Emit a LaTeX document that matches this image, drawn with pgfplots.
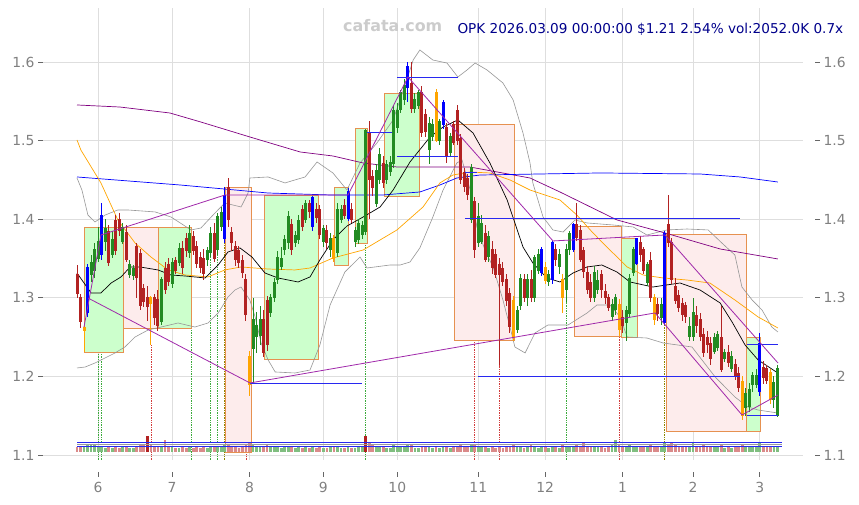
\documentclass[border=0pt]{standalone}
\usepackage{fontspec}
\setmainfont{DejaVu Sans}
\usepackage{pgfplots}
\usepackage{pgfplotstable}
\pgfplotsset{compat=1.18}
\definecolor{cred}{RGB}{178,34,34}
\definecolor{cgreen}{RGB}{34,139,34}
\definecolor{cblue}{RGB}{0,0,255}
\definecolor{corange}{RGB}{255,165,0}
\definecolor{vred}{RGB}{218,138,138}
\definecolor{vgreen}{RGB}{128,190,128}
\definecolor{boxg}{RGB}{204,255,204}
\definecolor{boxr}{RGB}{253,236,236}
\definecolor{boxe}{RGB}{230,145,80}
\definecolor{mapurple}{RGB}{128,0,128}
\definecolor{zz}{RGB}{160,40,170}
\definecolor{bb}{RGB}{150,150,150}
\definecolor{hblue}{RGB}{40,40,240}
\definecolor{dgreen}{RGB}{60,170,60}
\definecolor{dred}{RGB}{210,60,60}
\definecolor{title}{RGB}{0,0,139}

\pgfplotstableread{
i o h l c k v
0 1.330 1.342 1.300 1.305 0 5
1 1.300 1.305 1.262 1.270 0 5
2 1.258 1.265 1.231 1.262 2 6
3 1.281 1.343 1.275 1.339 1 8
4 1.330 1.355 1.320 1.345 0 8
5 1.335 1.370 1.325 1.362 0 7
6 1.350 1.390 1.345 1.372 0 5
7 1.355 1.421 1.348 1.405 1 6
8 1.372 1.400 1.360 1.388 0 4
9 1.385 1.392 1.340 1.345 0 5
10 1.355 1.385 1.350 1.374 0 4
11 1.398 1.405 1.355 1.360 0 5
12 1.400 1.408 1.378 1.385 0 4
13 1.372 1.395 1.368 1.390 0 5
14 1.383 1.392 1.345 1.348 0 5
15 1.330 1.348 1.325 1.342 0 4
16 1.328 1.342 1.322 1.338 0 4
17 1.365 1.370 1.300 1.326 0 6
18 1.357 1.362 1.285 1.290 0 7
19 1.312 1.318 1.288 1.295 0 7
20 1.300 1.315 1.270 1.289 0 16
21 1.300 1.302 1.240 1.292 2 8
22 1.300 1.305 1.265 1.275 0 6
23 1.298 1.310 1.258 1.265 0 6
24 1.270 1.326 1.265 1.323 0 5
25 1.338 1.345 1.305 1.310 0 12
26 1.342 1.350 1.315 1.320 0 6
27 1.318 1.350 1.312 1.345 0 5
28 1.348 1.352 1.330 1.335 0 4
29 1.345 1.370 1.340 1.363 0 4
30 1.363 1.372 1.330 1.338 0 5
31 1.376 1.382 1.352 1.360 0 4
32 1.358 1.392 1.350 1.382 0 6
33 1.378 1.385 1.355 1.360 0 4
34 1.365 1.372 1.338 1.343 0 5
35 1.352 1.358 1.332 1.339 0 4
36 1.350 1.362 1.322 1.331 0 5
37 1.348 1.365 1.340 1.360 0 4
38 1.358 1.390 1.352 1.382 0 6
39 1.382 1.395 1.345 1.350 0 5
40 1.361 1.408 1.355 1.403 0 6
41 1.390 1.415 1.385 1.409 0 5
42 1.375 1.441 1.370 1.430 1 7
43 1.440 1.452 1.390 1.400 0 8
44 1.383 1.390 1.360 1.370 0 5
45 1.365 1.372 1.340 1.348 0 5
46 1.360 1.366 1.338 1.345 0 4
47 1.348 1.355 1.325 1.332 0 5
48 1.323 1.330 1.270 1.278 0 7
49 1.225 1.232 1.175 1.190 2 10
50 1.235 1.300 1.190 1.272 0 8
51 1.250 1.282 1.230 1.265 0 6
52 1.252 1.290 1.240 1.272 0 5
53 1.272 1.285 1.225 1.230 0 6
54 1.297 1.302 1.232 1.240 0 7
55 1.281 1.305 1.275 1.300 0 5
56 1.300 1.325 1.295 1.320 0 5
57 1.323 1.360 1.318 1.352 0 6
58 1.340 1.365 1.335 1.350 0 4
59 1.361 1.380 1.355 1.374 0 5
60 1.370 1.410 1.362 1.403 0 6
61 1.393 1.400 1.355 1.361 0 5
62 1.370 1.385 1.365 1.380 0 4
63 1.374 1.405 1.368 1.399 0 5
64 1.412 1.418 1.385 1.390 0 4
65 1.400 1.425 1.395 1.420 0 5
66 1.420 1.425 1.402 1.410 0 4
67 1.390 1.430 1.385 1.428 1 6
68 1.412 1.420 1.395 1.402 0 4
69 1.412 1.418 1.375 1.380 0 5
70 1.372 1.392 1.365 1.388 0 4
71 1.386 1.392 1.362 1.370 0 4
72 1.361 1.382 1.352 1.376 0 5
73 1.376 1.380 1.345 1.350 2 5
74 1.358 1.421 1.352 1.412 0 6
75 1.400 1.418 1.395 1.412 0 4
76 1.418 1.426 1.400 1.405 0 4
77 1.401 1.440 1.398 1.435 1 6
78 1.412 1.420 1.395 1.400 0 4
79 1.371 1.390 1.365 1.386 0 4
80 1.374 1.400 1.368 1.395 0 5
81 1.380 1.398 1.375 1.392 0 5
82 1.384 1.515 1.380 1.513 0 16
83 1.511 1.525 1.400 1.450 0 10
84 1.454 1.462 1.430 1.440 0 7
85 1.420 1.470 1.415 1.462 0 6
86 1.450 1.490 1.445 1.482 0 6
87 1.471 1.480 1.440 1.446 0 5
88 1.450 1.475 1.445 1.470 0 4
89 1.460 1.480 1.455 1.472 0 4
90 1.471 1.545 1.465 1.539 0 7
91 1.517 1.548 1.510 1.539 0 6
92 1.539 1.565 1.535 1.561 0 5
93 1.552 1.578 1.545 1.570 0 6
94 1.568 1.600 1.549 1.595 1 8
95 1.573 1.600 1.535 1.541 0 7
96 1.541 1.560 1.535 1.552 0 4
97 1.545 1.565 1.540 1.561 0 4
98 1.561 1.570 1.505 1.510 0 6
99 1.533 1.540 1.505 1.512 0 5
100 1.488 1.530 1.470 1.522 0 5
101 1.505 1.528 1.500 1.520 0 4
102 1.561 1.565 1.498 1.500 2 5
103 1.500 1.528 1.495 1.524 0 4
104 1.520 1.552 1.515 1.549 1 5
105 1.517 1.522 1.472 1.479 0 5
106 1.485 1.510 1.480 1.505 0 4
107 1.520 1.525 1.495 1.498 0 5
108 1.539 1.545 1.495 1.500 0 6
109 1.503 1.508 1.445 1.450 0 7
110 1.459 1.465 1.435 1.441 0 6
111 1.452 1.458 1.425 1.431 0 5
112 1.399 1.470 1.395 1.466 0 7
113 1.422 1.428 1.350 1.361 0 8
114 1.370 1.420 1.365 1.403 0 6
115 1.372 1.405 1.368 1.395 0 5
116 1.382 1.392 1.345 1.348 0 5
117 1.352 1.385 1.345 1.378 0 4
118 1.361 1.372 1.330 1.339 0 5
119 1.355 1.362 1.325 1.330 0 4
120 1.342 1.350 1.215 1.329 0 6
121 1.338 1.345 1.315 1.320 0 4
122 1.323 1.330 1.290 1.297 0 5
123 1.306 1.312 1.255 1.263 0 6
124 1.297 1.302 1.245 1.250 2 7
125 1.259 1.290 1.255 1.284 0 5
126 1.290 1.330 1.285 1.325 0 5
127 1.323 1.330 1.295 1.300 0 4
128 1.300 1.330 1.290 1.323 0 5
129 1.323 1.335 1.295 1.300 0 8
130 1.300 1.355 1.295 1.352 0 5
131 1.335 1.362 1.330 1.355 0 4
132 1.332 1.365 1.328 1.361 1 5
133 1.339 1.345 1.318 1.322 2 5
134 1.320 1.335 1.315 1.330 0 4
135 1.323 1.372 1.318 1.371 1 6
136 1.362 1.368 1.340 1.348 0 5
137 1.340 1.362 1.330 1.355 0 4
138 1.323 1.330 1.281 1.300 2 8
139 1.310 1.368 1.295 1.361 0 6
140 1.361 1.385 1.355 1.382 0 5
141 1.361 1.395 1.358 1.393 1 6
142 1.393 1.421 1.372 1.376 0 7
143 1.386 1.392 1.345 1.348 0 6
144 1.360 1.365 1.325 1.333 0 10
145 1.332 1.340 1.305 1.310 0 6
146 1.320 1.330 1.295 1.300 0 5
147 1.300 1.340 1.295 1.332 0 6
148 1.310 1.335 1.305 1.322 0 5
149 1.330 1.335 1.300 1.310 0 5
150 1.308 1.318 1.292 1.300 0 4
151 1.300 1.305 1.283 1.288 0 5
152 1.276 1.298 1.270 1.291 0 7
153 1.285 1.305 1.278 1.300 0 12
154 1.291 1.298 1.252 1.259 2 8
155 1.275 1.285 1.255 1.265 0 6
156 1.268 1.290 1.245 1.284 0 6
157 1.280 1.330 1.275 1.325 0 7
158 1.332 1.365 1.328 1.361 0 6
159 1.344 1.376 1.342 1.376 1 6
160 1.370 1.378 1.345 1.355 0 5
161 1.361 1.365 1.330 1.335 0 5
162 1.319 1.345 1.315 1.342 0 5
163 1.348 1.358 1.295 1.300 0 7
164 1.300 1.305 1.265 1.272 2 6
165 1.292 1.300 1.270 1.280 0 5
166 1.275 1.300 1.265 1.292 0 5
167 1.269 1.385 1.265 1.382 1 10
168 1.393 1.431 1.365 1.370 0 8
169 1.371 1.376 1.318 1.323 0 10
170 1.314 1.325 1.292 1.297 0 7
171 1.303 1.310 1.282 1.288 0 6
172 1.293 1.300 1.270 1.278 0 6
173 1.290 1.295 1.268 1.276 0 5
174 1.250 1.275 1.245 1.263 0 6
175 1.250 1.300 1.245 1.282 0 10
176 1.278 1.290 1.255 1.265 0 6
177 1.272 1.280 1.245 1.250 0 6
178 1.253 1.262 1.225 1.230 0 7
179 1.250 1.258 1.230 1.240 0 5
180 1.242 1.250 1.215 1.223 0 6
181 1.232 1.255 1.228 1.250 0 5
182 1.237 1.258 1.232 1.253 0 5
183 1.250 1.290 1.205 1.208 0 7
184 1.222 1.235 1.218 1.230 0 4
185 1.231 1.240 1.212 1.218 0 5
186 1.210 1.232 1.205 1.225 0 4
187 1.215 1.222 1.195 1.200 0 5
188 1.204 1.212 1.180 1.186 0 6
189 1.193 1.200 1.145 1.150 2 8
190 1.160 1.185 1.150 1.178 0 6
191 1.161 1.192 1.155 1.183 0 6
192 1.189 1.205 1.180 1.201 0 5
193 1.189 1.210 1.185 1.201 0 5
194 1.180 1.255 1.175 1.242 1 9
195 1.212 1.220 1.190 1.199 0 6
196 1.210 1.215 1.190 1.195 0 5
197 1.205 1.210 1.165 1.170 2 6
198 1.170 1.200 1.160 1.192 0 6
199 1.150 1.215 1.148 1.210 0 6
}\candles

\pgfplotsset{
  ebar/.style 2 args={draw=none, mark=none, forget plot,
    error bars/.cd, y dir=both, y explicit, error mark=none,
    error bar style={line width=#2, draw=#1, solid}},
  bx/.style={fill=#1, draw=boxe, line width=0.9pt, forget plot},
  dl/.style={densely dotted, line width=0.7pt, forget plot},
  hl/.style={hblue, line width=0.9pt, forget plot},
}
\newcommand{\wick}[2]{\addplot[ebar={#1}{1pt}] table[x=i, y expr={#2 ? (\thisrow{h}+\thisrow{l})/2 : nan}, y error expr={(\thisrow{h}-\thisrow{l})/2}] {\candles};}
\newcommand{\body}[2]{\addplot[ebar={#1}{3pt}] table[x=i, y expr={#2 ? (\thisrow{o}+\thisrow{c})/2 : nan}, y error expr={abs(\thisrow{o}-\thisrow{c})/2+0.0005}] {\candles};}

\begin{document}
\begin{tikzpicture}
\useasboundingbox (0,0) rectangle (859pt,505pt);
\begin{axis}[
  at={(43pt,45pt)}, anchor=south west, scale only axis,
  width=760pt, height=452pt,
  xmin=-9.66, xmax=206.25, ymin=1.0936, ymax=1.6687,
  axis line style={draw=none},
  grid=major, major grid style={draw=black!13, line width=0.8pt},
  xtick={6,27,49,70,91,114,133,155,175,194},
  xticklabels={6,7,8,9,10,11,12,1,2,3},
  ytick={1.1,1.2,1.3,1.4,1.5,1.6},
  yticklabels={1.1,1.2,1.3,1.4,1.5,1.6},
  xtick pos=bottom, ytick pos=left,
  tick align=outside, major tick length=5pt,
  tick style={draw=black!60, line width=0.8pt},
  xtick style={yshift=-12pt},
  ticklabel style={font=\fontsize{13.9}{16}\selectfont, text=black!50},
  xticklabel style={yshift=-14pt},
  clip=true,
]
% signal dotted lines
\addplot[dl, dgreen] coordinates {(6,1.0936)(6,1.345)};
\addplot[dl, dgreen] coordinates {(7,1.0936)(7,1.348)};
\addplot[dl, dred] coordinates {(21,1.0936)(21,1.240)};
\addplot[dl, dgreen] coordinates {(32.4,1.0936)(32.4,1.350)};
\addplot[dl, dgreen] coordinates {(38,1.0936)(38,1.352)};
\addplot[dl, dgreen] coordinates {(40,1.0936)(40,1.355)};
\addplot[dl, olive] coordinates {(42,1.0936)(42,1.370)};
\addplot[dl, dred] coordinates {(48,1.0936)(48,1.270)};
\addplot[dl, dgreen] coordinates {(82,1.0936)(82,1.380)};
\addplot[dl, dred] coordinates {(113,1.0936)(113,1.350)};
\addplot[dl, dred] coordinates {(120,1.0936)(120,1.215)};
\addplot[dl, dgreen] coordinates {(139,1.0936)(139,1.295)};
\addplot[dl, dred] coordinates {(154,1.0936)(154,1.252)};
\addplot[dl, olive] coordinates {(167,1.0936)(167,1.265)};
% boxes
\addplot[bx=boxg] coordinates {(1.99,1.2310)(13.07,1.2310)(13.07,1.3901)(1.99,1.3901)} --cycle;
\addplot[bx=boxr] coordinates {(13.07,1.2616)(23.01,1.2616)(23.01,1.3901)(13.07,1.3901)} --cycle;
\addplot[bx=boxg] coordinates {(23.01,1.2616)(32.39,1.2616)(32.39,1.3901)(23.01,1.3901)} --cycle;
\addplot[bx=boxr] coordinates {(42.05,1.1038)(49.43,1.1038)(49.43,1.4410)(42.05,1.4410)} --cycle;
\addplot[bx=boxg] coordinates {(53.13,1.2209)(68.47,1.2209)(68.47,1.4308)(53.13,1.4308)} --cycle;
\addplot[bx=boxg] coordinates {(73.01,1.3417)(76.99,1.3417)(76.99,1.4410)(73.01,1.4410)} --cycle;
\addplot[bx=boxg] coordinates {(78.98,1.3697)(82.39,1.3697)(82.39,1.5160)(78.98,1.5160)} --cycle;
\addplot[bx=boxg] coordinates {(87.22,1.4295)(97.16,1.4295)(97.16,1.5606)(87.22,1.5606)} --cycle;
\addplot[bx=boxr] coordinates {(107.1,1.2463)(124.15,1.2463)(124.15,1.5211)(107.1,1.5211)} --cycle;
\addplot[bx=boxr] coordinates {(141.19,1.2514)(154.55,1.2514)(154.55,1.3913)(141.19,1.3913)} --cycle;
\addplot[bx=boxg] coordinates {(154.55,1.2501)(159.09,1.2501)(159.09,1.3761)(154.55,1.3761)} --cycle;
\addplot[bx=boxr] coordinates {(167.33,1.1305)(190.06,1.1305)(190.06,1.3812)(167.33,1.3812)} --cycle;
\addplot[bx=boxg] coordinates {(190.06,1.1305)(194.03,1.1305)(194.03,1.2501)(190.06,1.2501)} --cycle;
% Bollinger bands
\addplot[bb, line width=0.6pt, forget plot] coordinates {
(0,1.4524)(1.4,1.4371)(3.1,1.4053)(5.1,1.3964)(8.0,1.4053)(11.6,1.4117)(14.5,1.4117)(22.2,1.4092)(26.7,1.4028)(32.4,1.3863)(35.2,1.3888)(39.2,1.4079)(42.0,1.4206)(46.6,1.4155)(48.6,1.4333)(49.1,1.4524)(54.3,1.4537)(59.1,1.4461)(61.9,1.4499)(64.8,1.4537)(68.2,1.4728)(72.7,1.4588)(76.7,1.4371)(80.4,1.4715)(85.2,1.4969)(89.8,1.5262)(93.2,1.5707)(95.5,1.6025)(97.4,1.6153)(101.1,1.6025)(105.1,1.5987)(108.2,1.5809)(110.8,1.5898)(113.1,1.5987)(116.5,1.5898)(121.0,1.5733)(123.9,1.5517)(126.7,1.5097)(128.7,1.4715)(129.5,1.4461)(132.4,1.4028)(135.2,1.3863)(138.1,1.3837)(141.5,1.3990)(144.9,1.3952)(152.3,1.3926)(158.0,1.3901)(161.9,1.3799)(167.6,1.3863)(173.3,1.3875)(179.3,1.3863)(183.2,1.3697)(186.9,1.3544)(188.9,1.3137)(191.8,1.2972)(194.6,1.2845)(197.4,1.2628)(199.1,1.2565)};
\addplot[bb, line width=0.6pt, forget plot] coordinates {
(0,1.2107)(2.3,1.2119)(5.1,1.2170)(10.8,1.2298)(13.6,1.2374)(16.5,1.2501)(20.2,1.2590)(23.9,1.2628)(28.7,1.2679)(33.5,1.2628)(37.2,1.2679)(40.1,1.2806)(42.9,1.3010)(44.9,1.3099)(46.6,1.3137)(49.1,1.2972)(50.6,1.2756)(52.3,1.2425)(54.3,1.2209)(56.3,1.2056)(61.9,1.2043)(66.2,1.2081)(69.0,1.2399)(71.9,1.2908)(76.1,1.3328)(80.4,1.3519)(82.4,1.3379)(88.9,1.3417)(91.8,1.3417)(94.6,1.3455)(97.4,1.3634)(101.1,1.4028)(104.0,1.4371)(107.9,1.4715)(109.4,1.4753)(111.7,1.4371)(113.6,1.3901)(115.9,1.3608)(118.2,1.3392)(121.0,1.2972)(123.0,1.2628)(124.4,1.2374)(127.3,1.2298)(130.1,1.2552)(133.8,1.2654)(139.5,1.2654)(144.9,1.2806)(147.7,1.2908)(151.4,1.2908)(154.3,1.2756)(156.3,1.2501)(161.9,1.2488)(166.5,1.2425)(174.7,1.2374)(181.3,1.1992)(186.9,1.1738)(190.6,1.1611)(193.5,1.1572)(199.1,1.1534)};
% moving averages
\addplot[mapurple, line width=0.7pt, forget plot] coordinates {
(0,1.5453)(12.2,1.5427)(26.4,1.5351)(35.2,1.5236)(49.1,1.5046)(63.4,1.4855)(72.7,1.4804)(81.3,1.4715)(90.9,1.4664)(111.6,1.4664)(128.7,1.4524)(137.2,1.4346)(153.4,1.3990)(167.1,1.3824)(182.7,1.3621)(199.1,1.3494)};
\addplot[blue, line width=0.7pt, forget plot] coordinates {
(0,1.4537)(29.3,1.4435)(54.3,1.4333)(71.9,1.4308)(86.9,1.4308)(97.4,1.4346)(103.1,1.4435)(107.9,1.4524)(114.5,1.4562)(148.6,1.4588)(177.0,1.4575)(188.4,1.4537)(199.1,1.4473)};
\addplot[corange, line width=0.7pt, forget plot] coordinates {
(0,1.5008)(1.1,1.4880)(6.8,1.4461)(11.6,1.3990)(16.5,1.3697)(21.0,1.3519)(25.9,1.3354)(30.7,1.3290)(37.2,1.3265)(42.0,1.3354)(46.6,1.3392)(54.3,1.3366)(61.9,1.3354)(66.2,1.3379)(72.7,1.3506)(81.3,1.3608)(90.9,1.3863)(98.3,1.4155)(103.1,1.4461)(106.8,1.4562)(111.6,1.4600)(117.3,1.4588)(123.0,1.4499)(128.7,1.4371)(137.2,1.4244)(142.0,1.4053)(146.6,1.3824)(151.4,1.3608)(156.3,1.3392)(160.8,1.3290)(166.5,1.3252)(173.3,1.3226)(179.8,1.3188)(186.9,1.2972)(193.5,1.2756)(199.1,1.2616)};
\addplot[black, line width=0.7pt, forget plot] coordinates {
(0,1.3315)(4.0,1.3061)(6.8,1.3061)(9.7,1.3188)(12.5,1.3265)(15.1,1.3392)(17.9,1.3392)(23.0,1.3354)(26.7,1.3290)(30.7,1.3277)(36.4,1.3252)(40.1,1.3417)(42.9,1.3583)(46.3,1.3634)(49.7,1.3519)(53.4,1.3315)(57.1,1.3252)(62.8,1.3201)(66.2,1.3265)(69.0,1.3481)(72.7,1.3735)(76.7,1.3913)(81.3,1.4028)(86.1,1.4155)(89.8,1.4371)(94.6,1.4728)(100.3,1.5046)(104.0,1.5173)(108.2,1.5262)(112.5,1.5097)(117.3,1.4715)(122.2,1.4244)(126.7,1.3646)(129.5,1.3443)(133.5,1.3252)(137.2,1.3201)(140.9,1.3315)(144.9,1.3392)(149.1,1.3417)(153.4,1.3328)(157.1,1.3201)(163.6,1.3137)(171.3,1.3188)(177.0,1.3099)(182.7,1.2934)(186.1,1.2692)(189.8,1.2399)(193.5,1.2209)(199.1,1.2043)};
% volume
\addplot[ebar={vred}{2.8pt}] table[x=i, y expr={\thisrow{c}<\thisrow{o} ? 1.104+\thisrow{v}*0.000636 : nan}, y error expr={\thisrow{v}*0.000636}] {\candles};
\addplot[ebar={vgreen}{2.8pt}] table[x=i, y expr={\thisrow{c}<\thisrow{o} ? nan : 1.104+\thisrow{v}*0.000636}, y error expr={\thisrow{v}*0.000636}] {\candles};
\addplot[ebar={cred}{2.8pt}] coordinates {(20,1.11418) +- (0,0.01018) (82,1.11418) +- (0,0.01018)};
\addplot[hblue, line width=0.8pt, forget plot] coordinates {(0,1.1157)(200.3,1.1157)};
\addplot[black!40, line width=0.8pt, forget plot] coordinates {(0,1.1131)(200.3,1.1131)};
\addplot[hblue, line width=0.8pt, forget plot] coordinates {(0,1.1106)(200.3,1.1106)};
% candles
\wick{cred}{and(\thisrow{k}==0,\thisrow{c}<\thisrow{o})}
\body{cred}{and(\thisrow{k}==0,\thisrow{c}<\thisrow{o})}
\wick{cgreen}{and(\thisrow{k}==0,\thisrow{c}>=\thisrow{o})}
\body{cgreen}{and(\thisrow{k}==0,\thisrow{c}>=\thisrow{o})}
\wick{cblue}{\thisrow{k}==1}
\body{cblue}{\thisrow{k}==1}
\wick{corange}{\thisrow{k}==2}
\body{corange}{\thisrow{k}==2}
% horizontal levels
\addplot[hl] coordinates {(49.15,1.1916)(81.0,1.1916)};
\addplot[hl] coordinates {(82.4,1.5109)(89.5,1.5109)};
\addplot[hl] coordinates {(91.0,1.5809)(108.2,1.5809)};
\addplot[hl] coordinates {(91.0,1.4804)(108.2,1.4804)};
\addplot[hl] coordinates {(110.2,1.4600)(113.6,1.4600)};
\addplot[hl] coordinates {(110.2,1.4015)(188.4,1.4015)};
\addplot[hl] coordinates {(113.9,1.2005)(188.4,1.2005)};
\addplot[hl] coordinates {(190.3,1.2412)(199.15,1.2412)};
\addplot[hl] coordinates {(190.3,1.1509)(199.15,1.1509)};
% zigzag trend lines
\addplot[zz, line width=0.8pt, forget plot] coordinates {
(1.99,1.2628)(6.82,1.3799)(42.05,1.4308)(76.99,1.4308)(94.03,1.5809)(135.23,1.3723)(167.05,1.3799)(199.15,1.2170)};
\addplot[zz, line width=0.8pt, forget plot] coordinates {
(3.13,1.2997)(49.15,1.1916)(164.20,1.2807)(188.92,1.1509)(199.15,1.1763)};
\end{axis}
\begin{axis}[
  at={(43pt,45pt)}, anchor=south west, scale only axis,
  width=760pt, height=452pt,
  xmin=-9.66, xmax=206.25, ymin=1.0936, ymax=1.6687,
  hide x axis, axis y line*=right, axis line style={draw=none},
  ytick={1.1,1.2,1.3,1.4,1.5,1.6},
  yticklabels={1.1,1.2,1.3,1.4,1.5,1.6},
  tick align=outside, major tick length=5pt,
  tick style={draw=black!60, line width=0.8pt},
  ytick style={xshift=12pt},
  ticklabel style={font=\fontsize{13.9}{16}\selectfont, text=black!50},
  yticklabel style={xshift=12pt},
]
\addplot[draw=none, forget plot] coordinates {(0,1.3)};
\end{axis}
\node[anchor=base west, text=black!20, font=\bfseries\fontsize{15.9}{18}\selectfont, inner sep=0pt] at (343pt,473.3pt) {cafata.com};
\node[anchor=base east, text=title, font=\fontsize{13.6}{16}\selectfont, inner sep=0pt] at (843.5pt,471.7pt) {OPK 2026.03.09 00:00:00 \$1.21 2.54\% vol:2052.0K 0.7x};
\end{tikzpicture}
\end{document}
